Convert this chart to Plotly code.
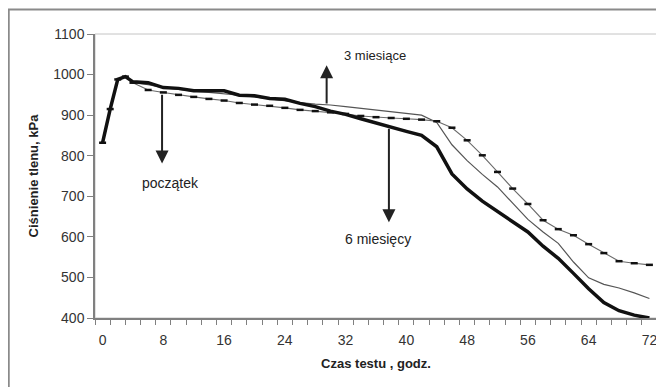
import plotly.graph_objects as go

# ---- data (hours, kPa) ----
hours = [0, 1, 2, 3, 4, 6, 8, 10, 12, 14, 16, 18, 20, 22, 24, 26, 28, 30, 32, 34,
         36, 38, 40, 42, 44, 46, 48, 50, 52, 54, 56, 58, 60, 62, 64, 66, 68, 70, 72]

szesc_miesiecy = [832, 915, 988, 995, 982, 980, 968, 966, 960, 960, 960, 949, 948, 941, 939,
                  929, 921, 910, 902, 891, 880, 871, 860, 850, 822, 755, 718, 688, 663, 638,
                  612, 577, 547, 510, 472, 438, 418, 407, 400]

trzy_miesiace = [832, 915, 988, 995, 980, 962, 956, 950, 945, 940, 936, 930, 926, 923, 918,
                 913, 910, 907, 903, 898, 895, 893, 891, 889, 885, 869, 838, 801, 760, 719,
                 681, 641, 619, 604, 582, 560, 540, 535, 531]

poczatek = [832, 915, 988, 995, 980, 975, 968, 963, 959, 956, 953, 949, 945, 940, 936,
            931, 927, 925, 921, 917, 913, 909, 905, 900, 882, 827, 788, 754, 723, 682,
            643, 612, 584, 538, 499, 483, 474, 462, 448]

x_tick_vals = [0, 8, 16, 24, 32, 40, 48, 56, 64, 72]
x_tick_text = [str(v) for v in x_tick_vals]
y_tick_vals = [400, 500, 600, 700, 800, 900, 1000, 1100]

FONT = "Liberation Sans, Arial, sans-serif"

fig = go.Figure()

fig.add_trace(go.Scatter(x=hours, y=poczatek, mode="lines",
                         line=dict(color="#555555", width=1.2), name="początek"))
fig.add_trace(go.Scatter(x=hours, y=trzy_miesiace, mode="lines+markers",
                         line=dict(color="#6a6a6a", width=1.1),
                         marker=dict(symbol="line-ew", size=5,
                                     line=dict(color="#111111", width=2.5)),
                         name="3 miesiące"))
fig.add_trace(go.Scatter(x=hours, y=szesc_miesiecy, mode="lines",
                         line=dict(color="#111111", width=3.5), name="6 miesięcy"))

arrow_style = dict(showarrow=True, arrowhead=2, arrowsize=1.3, arrowwidth=2,
                   arrowcolor="#222222", axref="x", ayref="y", text="")

annotations = [
    dict(x=29.5, y=1023, ax=29.5, ay=925, **arrow_style),
    dict(x=7.83, y=781, ax=7.83, ay=954, **arrow_style),
    dict(x=37.7, y=636, ax=37.7, ay=870, **arrow_style),
    dict(x=31.5, y=1048, text="3 miesiące", showarrow=False, xanchor="left",
         font=dict(size=13, color="#222222", family=FONT)),
    dict(x=8.9, y=732, text="początek", showarrow=False,
         font=dict(size=14, color="#222222", family=FONT)),
    dict(x=36.3, y=594, text="6 miesięcy", showarrow=False,
         font=dict(size=14, color="#222222", family=FONT)),
]

shapes = [
    # plot area border (light)
    dict(type="rect", xref="x domain", yref="y domain", x0=0, x1=1, y0=0, y1=1,
         line=dict(color="#c4c4c4", width=1), layer="below"),
    # outer frame
    dict(type="rect", xref="paper", yref="paper", x0=-0.1535, x1=1.05, y0=-0.4, y1=1.0865,
         line=dict(color="#8a8a8a", width=2), layer="below"),
]

# page body adds an 8px margin, so the figure is sized/offset to compensate
fig.update_layout(
    width=656, height=379,
    margin=dict(l=87, r=7, t=26, b=69),
    paper_bgcolor="white", plot_bgcolor="white",
    showlegend=False,
    font=dict(family=FONT, size=14, color="#333333"),
    annotations=annotations,
    shapes=shapes,
)

fig.update_xaxes(
    range=[-1, 73], tickvals=x_tick_vals, ticktext=x_tick_text,
    ticks="", showgrid=False, zeroline=False, automargin=False,
    showline=True, linecolor="#808080", linewidth=1.5,
    minor=dict(tickvals=list(range(-1, 74, 2)), ticks="outside", ticklen=5,
               tickcolor="#808080", tickwidth=1.2, showgrid=False),
    ticklabelstandoff=8,
    tickfont=dict(size=14, color="#333333"),
    title=dict(text="<b>Czas testu , godz.</b>", font=dict(size=13, color="#222222"),
               standoff=12),
)
fig.update_yaxes(
    range=[400, 1100], tickvals=y_tick_vals,
    ticks="outside", ticklen=6, tickcolor="#808080", tickwidth=1.2,
    showgrid=False, zeroline=False, automargin=False,
    showline=True, linecolor="#808080", linewidth=1.5,
    tickfont=dict(size=14, color="#333333"),
    title=dict(text="<b>Ciśnienie tlenu, kPa</b>", font=dict(size=13, color="#222222"),
               standoff=12),
)

fig.write_html("out.html")
